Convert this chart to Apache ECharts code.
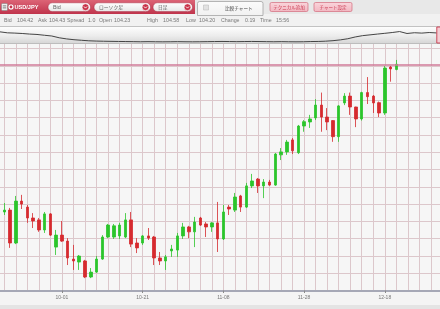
<!DOCTYPE html>
<html><head><meta charset="utf-8">
<script src="https://cdn.jsdelivr.net/npm/echarts@6/dist/echarts.min.js"></script>
<style>html,body{margin:0;padding:0;background:#eeeeee;}#c{width:440px;height:309px;}</style>
</head><body><div id="c"></div>
<script>
// ---- data ----
const leadDate = '09-16';
const dates = ['09-17','09-18','09-19','09-20','09-23','09-24','09-25','09-26','09-27','09-30',
 '10-01','10-02','10-03','10-04','10-07','10-08','10-09','10-10','10-11','10-14',
 '10-15','10-16','10-17','10-18','10-21','10-22','10-23','10-24','10-25','10-28',
 '10-29','10-30','10-31','11-01','11-04','11-05','11-06','11-07','11-08','11-11',
 '11-12','11-13','11-14','11-15','11-18','11-19','11-20','11-21','11-22','11-25',
 '11-26','11-27','11-28','11-29','12-02','12-03','12-04','12-05','12-06','12-09',
 '12-10','12-11','12-12','12-13','12-16','12-17','12-18','12-19','12-20'];
const futureDates = ['12-23','12-24','12-25','12-26','12-27','12-30','12-31','01-01'];
const openP = [98.99,99.06,97.85,99.39,99.17,98.77,98.70,98.33,98.92,97.70,
 98.14,97.92,97.26,97.15,97.19,96.60,96.78,97.26,98.07,98.07,
 98.11,98.07,98.70,97.85,97.85,98.11,98.07,97.30,97.19,97.56,
 97.59,98.11,98.44,98.26,98.77,98.55,98.44,98.59,98.00,99.17,
 99.06,99.58,99.17,99.95,100.20,99.95,100.09,99.98,101.09,101.20,
 101.64,101.17,102.15,102.30,102.45,102.92,102.48,102.35,101.76,103.00,
 103.25,102.85,102.41,103.38,103.25,103.01,102.63,104.32,104.23];
const closeP = [99.06,97.85,99.39,99.28,98.77,98.66,98.33,98.92,98.14,98.14,
 97.92,97.30,97.19,97.37,96.60,96.78,97.26,98.07,98.51,98.48,
 98.51,98.70,97.81,97.67,98.11,98.03,97.30,97.19,97.34,97.63,
 98.11,98.44,98.26,98.62,98.51,98.44,98.59,98.00,98.99,99.10,
 99.54,99.17,99.95,100.13,99.95,100.09,99.98,101.12,101.20,101.56,
 101.24,102.15,102.31,102.41,102.92,102.48,102.30,101.76,102.89,103.25,
 102.85,102.41,103.38,103.23,103.00,102.63,104.28,104.25,104.42];
const lowP = [98.88,97.67,97.81,99.10,98.59,98.40,98.26,98.22,98.11,97.41,
 97.89,97.04,96.86,96.86,96.56,96.56,96.75,97.23,98.03,98.00,
 98.00,98.03,97.70,97.48,97.78,97.96,97.04,97.04,96.86,97.34,
 97.34,98.00,98.03,97.70,98.48,98.07,98.26,97.52,97.96,98.88,
 98.99,98.99,99.14,99.87,99.69,99.50,99.95,99.95,100.90,101.09,
 101.12,101.12,101.94,102.08,102.37,101.94,102.00,101.57,101.57,102.92,
 102.56,102.11,102.35,102.96,102.63,102.48,102.56,103.78,104.20];
const highP = [99.32,99.14,99.58,99.62,99.25,98.95,98.77,98.99,98.95,98.33,
 98.66,98.03,97.78,97.41,97.23,96.93,97.37,98.14,98.55,98.55,
 98.59,98.95,98.99,98.03,98.14,98.40,98.11,97.52,97.41,97.78,
 98.22,98.59,98.48,98.81,98.81,98.62,98.62,99.36,99.25,99.25,
 99.69,99.62,100.06,100.39,100.24,100.20,100.17,101.16,101.34,101.64,
 101.71,102.19,102.37,102.56,103.14,103.38,102.81,102.37,102.92,103.36,
 103.38,102.86,103.41,103.95,103.29,103.05,104.36,104.36,104.58];
const tickLabels = ['10-01','10-21','11-08','11-28','12-18'];
const bidPrice = 104.42;
const overviewValues = [107.0,104.3,103.5,102.4,100.8,99.7,97.5,95.4,90.5,87.3,
 85.1,83.5,82.1,81.3,80.8,80.5,80.2,80.0,79.7,79.4,
 79.7,79.4,79.2,79.4,79.7,79.4,79.2,79.4,79.7,80.0,
 80.2,80.0,79.7,80.0,80.2,80.0,79.7,79.4,79.7,79.4,
 79.2,79.4,80.0,80.2,81.0,82.4,84.6,87.8,92.7,96.4,
 98.6,100.8,102.9,105.1,107.8,102.4,104.5,103.5,105.1,104.0];
const infoLabels = ['Bid','Ask','Spread','Open','High','Low','Change','Time'];
const infoValues = ['104.42','104.43','1.0','104.23','104.58','104.20','0.19','15:56'];
const menuItems = ['Bid','ローソク足','日足'];
const tabLabel = '比較チャート';
const buttonLabels = ['テクニカル追加','チャート設定'];
const pairLabel = 'USD/JPY';

// ---- build ----
const categories = [leadDate].concat(dates, futureDates);
const source = dates.map((d, i) => [d, openP[i], closeP[i], lowP[i], highP[i]]);
const ovCats = overviewValues.map((v, i) => String(i));

const LAT = '"Liberation Sans", Arial, sans-serif';
const CJK = '"Noto Sans CJK JP", sans-serif';
const G = echarts.graphic;

const els = [];
els.push({type:'rect', z:-20, shape:{x:0,y:0,width:440,height:14}, style:{fill:'#e8e8e8'}});
els.push({type:'rect', z:-20, shape:{x:0,y:14,width:440,height:13}, style:{fill:'#f1f1f1'}});
els.push({type:'rect', z:-19, shape:{x:0,y:292,width:440,height:13}, style:{fill:'#f4f4f4'}});
els.push({type:'rect', z:-19, shape:{x:0,y:305,width:440,height:4}, style:{fill:'#e4e4e4'}});
els.push({type:'rect', z:10, shape:{x:0,y:0,width:195,height:14},
  style:{fill:new G.LinearGradient(0,0,0,1,[{offset:0,color:'#dc6476'},{offset:1,color:'#c0344c'}])}});
els.push({type:'rect', z:11, shape:{x:1.5,y:3.5,width:6,height:7,r:1}, style:{fill:'#eeeeee', stroke:'#888', lineWidth:0.6}});
els.push({type:'rect', z:12, shape:{x:2.8,y:5.5,width:3.4,height:0.8}, style:{fill:'#666'}});
els.push({type:'rect', z:12, shape:{x:2.8,y:7.5,width:3.4,height:0.8}, style:{fill:'#666'}});
els.push({type:'circle', z:11, shape:{cx:11,cy:7,r:3}, style:{fill:'#ffffff', stroke:'#b02a40', lineWidth:0.5}});
els.push({type:'circle', z:12, shape:{cx:11,cy:7,r:1.4}, style:{fill:'#c8344a'}});
els.push({type:'text', z:12, style:{text:pairLabel, x:14.5, y:7.3, fill:'#ffffff', fontSize:5.6, fontWeight:'bold', fontFamily:LAT, verticalAlign:'middle'}});
const dd = [[48,90.5],[94,150.5],[153,192.5]];
menuItems.forEach((t, i) => {
  const [x0, x1] = dd[i];
  els.push({type:'rect', z:11, shape:{x:x0,y:2.8,width:x1-x0,height:8.8,r:4.4},
    style:{fill:new G.LinearGradient(0,0,0,1,[{offset:0,color:'#ffffff'},{offset:1,color:'#e6e6e6'}]), stroke:'#a83046', lineWidth:0.5}});
  els.push({type:'text', z:12, style:{text:t, x:x0+5, y:7.3, fill:'#666', fontSize:i===0?5.4:4.8, fontFamily:i===0?LAT:CJK, verticalAlign:'middle'}});
  const cx = x1 - 5, cy = 7.2;
  els.push({type:'circle', z:12, shape:{cx:cx,cy:cy,r:3.5}, style:{fill:'#c8344a', stroke:'#ffffff', lineWidth:0.7}});
  els.push({type:'polyline', z:13, shape:{points:[[cx-1.5,cy-0.7],[cx,cy+0.9],[cx+1.5,cy-0.7]]}, style:{stroke:'#ffffff', lineWidth:0.9, fill:null}});
});
els.push({type:'rect', z:11, shape:{x:197.5,y:1.5,width:65.5,height:14,r:[2,2,0,0]},
  style:{fill:new G.LinearGradient(0,0,0,1,[{offset:0,color:'#fbfbfb'},{offset:1,color:'#f1f1f1'}]), stroke:'#9a9a9a', lineWidth:0.7}});
els.push({type:'rect', z:12, shape:{x:203.5,y:5,width:5,height:5}, style:{fill:'#e2e2e2', stroke:'#b4b4b4', lineWidth:0.5}});
els.push({type:'text', z:12, style:{text:tabLabel, x:225, y:7.8, fill:'#444', fontSize:4.6, fontFamily:CJK, verticalAlign:'middle'}});
const bx = [[270,308],[314,352]];
buttonLabels.forEach((t, i) => {
  const [x0, x1] = bx[i];
  els.push({type:'rect', z:11, shape:{x:x0,y:2.5,width:x1-x0,height:9,r:1.5},
    style:{fill:new G.LinearGradient(0,0,0,1,[{offset:0,color:'#fad6dc'},{offset:1,color:'#f2b6c1'}]), stroke:'#d26a7c', lineWidth:0.7}});
  els.push({type:'text', z:12, style:{text:t, x:(x0+x1)/2, y:7.1, fill:'#c8354c', fontSize:4.5, fontFamily:CJK, align:'center', verticalAlign:'middle'}});
});
const infoX = [[4,17],[38,49],[67,88],[99,114],[147,163],[186,199],[221,245],[260,276]];
infoLabels.forEach((t, i) => {
  els.push({type:'text', z:12, style:{text:t, x:infoX[i][0], y:20.5, fill:'#787878', fontSize:5.3, fontFamily:LAT, verticalAlign:'middle'}});
  els.push({type:'text', z:12, style:{text:infoValues[i], x:infoX[i][1], y:20.5, fill:'#787878', fontSize:5.3, fontFamily:LAT, verticalAlign:'middle'}});
});
els.push({type:'rect', z:-15, shape:{x:-1,y:26.5,width:442,height:17},
  style:{fill:new G.LinearGradient(0,0,0,1,[{offset:0,color:'#ffffff'},{offset:0.55,color:'#ececec'},{offset:1,color:'#d4d4d4'}]), stroke:'#b4b4b4', lineWidth:0.8}});
els.push({type:'rect', z:20, shape:{x:436.8,y:27,width:4,height:16}, style:{fill:'#f4ccd3', stroke:'#c8384c', lineWidth:0.9}});

const chart = echarts.init(document.getElementById('c'), null, {renderer:'canvas'});
chart.setOption({
  animation: false,
  backgroundColor: '#eeeeee',
  graphic: {elements: els},
  dataset: {source: source},
  grid: [
    {left:-1.465, right:-2.44, top:44, bottom:18.5, show:true, backgroundColor:'#f6f6f6', borderWidth:0, outerBoundsMode:'none', containLabel:false},
    {left:0, right:3.4, top:27.5, bottom:266, outerBoundsMode:'none', containLabel:false}
  ],
  xAxis: [
    {type:'category', gridIndex:0, data:categories, boundaryGap:false,
     axisLine:{show:true, lineStyle:{color:'#a6a8b6', width:2}},
     axisTick:{show:true, length:2.5, interval:(i, v) => tickLabels.includes(v), lineStyle:{color:'#8a8a8a', width:1}},
     axisLabel:{show:true, interval:(i, v) => tickLabels.includes(v), fontSize:5, color:'#777', margin:4.5, fontFamily:LAT},
     splitLine:{show:true, interval:(i) => i % 2 === 1, lineStyle:{color:'#dcc7cb', width:1}}},
    {type:'category', gridIndex:1, data:ovCats, boundaryGap:false, show:false}
  ],
  yAxis: [
    {type:'value', gridIndex:0, min:96.104, max:105.166, scale:true, show:false, splitLine:{show:false}},
    {type:'value', gridIndex:0, min:0, max:14.265, interval:1, position:'right',
     axisLine:{show:false}, axisTick:{show:false}, axisLabel:{show:false},
     splitLine:{show:true, showMinLine:false, showMaxLine:false, lineStyle:{color:'#dcc7cb', width:1}}},
    {type:'value', gridIndex:1, min:75.92, max:119.12, show:false, splitLine:{show:false}}
  ],
  series: [
    {type:'candlestick', xAxisIndex:0, yAxisIndex:0, datasetIndex:0,
     encode:{x:0, y:[1,2,3,4]}, barWidth:3,
     itemStyle:{color:'#2bc52b', color0:'#d62a2e', borderColor:'#2bc52b', borderColor0:'#d62a2e', borderWidth:0.8},
     markLine:{silent:true, symbol:['none','none'], label:{show:false},
       lineStyle:{color:'#d07a98', width:1.6, type:'solid'}, data:[{yAxis:bidPrice}]}},
    {type:'line', xAxisIndex:1, yAxisIndex:2, data:overviewValues, showSymbol:false, symbol:'none',
     lineStyle:{color:'#444444', width:1}}
  ]
});
</script></body></html>
